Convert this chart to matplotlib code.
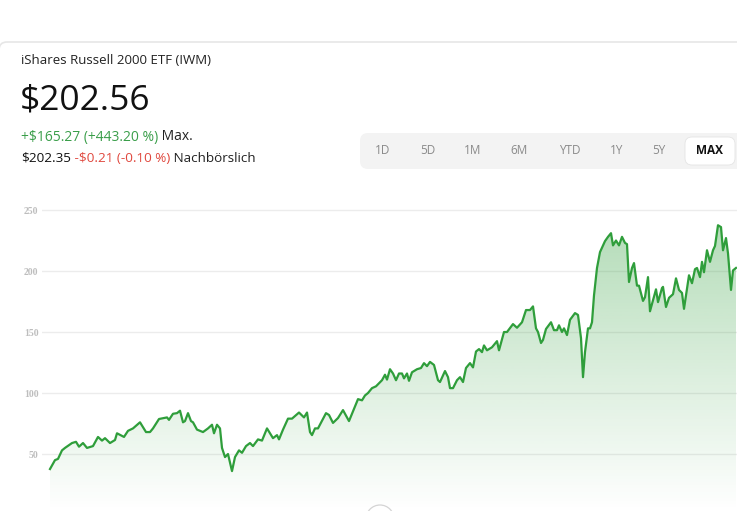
"""IWM price card: header texts, range selector and MAX price history area chart."""
import matplotlib
matplotlib.use("Agg")
import matplotlib.pyplot as plt
import numpy as np
from matplotlib.patches import FancyBboxPatch, Circle

# ---- data ------------------------------------------------------------------ #
TITLE = "iShares Russell 2000 ETF (IWM)"
PRICE = "$202.56"
CHANGE = "+$165.27 (+443.20 %)"
CHANGE_LABEL = "Max."
AFTER_PRICE = "$202.35"
AFTER_CHANGE = "-$0.21 (-0.10 %)"
AFTER_LABEL = "Nachbörslich"
RANGES = ["1D", "5D", "1M", "6M", "YTD", "1Y", "5Y", "MAX"]
SELECTED = "MAX"
Y_TICKS = [50, 100, 150, 200, 250]

# sample index along the time axis and closing price
t = [0, 5, 8, 12, 15, 22, 26, 29, 33, 37, 43, 48, 52, 55, 60, 65, 67, 74, 78, 83,
     90, 96, 100, 103, 109, 114, 117, 119, 123, 127, 130, 133, 135, 138, 141, 143,
     147, 150, 153, 158, 162, 164, 167, 170, 172, 175, 178, 182, 185, 189, 192, 196,
     200, 203, 208, 212, 217, 223, 227, 229, 233, 238, 242, 249, 254, 257, 260, 262,
     265, 268, 276, 279, 283, 288, 293, 299, 308, 312, 315, 318, 322, 326, 332, 335,
     337, 340, 343, 346, 349, 352, 354, 357, 359, 362, 367, 371, 374, 377, 380, 384,
     388, 390, 395, 398, 400, 403, 407, 410, 413, 416, 420, 423, 426, 429, 432, 434,
     437, 442, 447, 449, 454, 457, 463, 467, 472, 476, 480, 483, 486, 488, 491, 493,
     496, 501, 504, 507, 509, 512, 514, 517, 520, 525, 528, 531, 533, 535, 538, 540,
     542, 544, 547, 550, 555, 558, 561, 563, 566, 569, 572, 575, 577, 579, 582, 584,
     587, 589, 593, 595, 598, 600, 603, 606, 608, 612, 613, 616, 619, 623, 626, 629,
     632, 634, 639, 642, 645, 647, 650, 652, 654, 657, 660, 663, 665, 668, 671, 673,
     676, 678, 681, 683, 686]
price = [37.7, 45, 46, 53, 55, 59, 60, 56, 59, 55, 56.5, 64, 61, 63, 59, 61.5, 67, 64,
         69, 71, 76, 68, 68, 71, 78.7, 79.5, 80, 78, 83, 83.5, 85.5, 76, 77, 83.5, 77,
         76, 70, 69, 68, 71, 74, 67, 74, 71, 55, 47.5, 50, 36, 47.5, 53, 51, 56.5, 59,
         56.5, 62, 61, 71, 63, 65.5, 62, 70, 79, 79, 84, 80, 84, 68, 65.5, 71, 71, 83.5,
         82, 75.5, 79.5, 86, 77, 95, 94, 98, 100, 104, 105.5, 110.5, 115, 111, 119.5,
         116, 110.5, 116, 116, 112, 116, 110, 117, 119.5, 120.5, 124.5, 122, 125.5, 123,
         110.5, 109, 118, 113, 104, 104, 110.5, 113, 109, 120.5, 124.5, 121, 134, 136,
         133.5, 139, 135, 137.5, 142.5, 135, 150, 150, 156.5, 153.5, 158, 168, 168, 171,
         153, 150, 141, 143.5, 152.5, 158, 151.5, 151.5, 155.5, 150, 153, 147.5, 160,
         165.5, 164, 145, 113, 133.5, 153, 153, 158, 180, 202.5, 215.5, 224.5, 228, 231,
         221, 225, 221, 228, 223, 222, 191, 202.5, 206.5, 188, 188, 175.5, 178.5, 195,
         167, 176, 185, 174.5, 186, 187, 170.5, 178, 181, 194, 184.5, 182, 169, 196.5,
         190, 201.5, 202.5, 195, 207.5, 199, 217, 207.5, 217, 220.5, 237.5, 236, 217,
         227, 214.5, 184.5, 200.5, 202.5]

GREEN = "#2f9e3b"
GREEN_TXT = "#3a9e4a"
RED_TXT = "#e0483e"
W, H = 737, 511

fig = plt.figure(figsize=(W / 100, H / 100), dpi=100)
fig.patch.set_facecolor("white")

# ---- chart ------------------------------------------------------------------ #
ax = fig.add_axes([42 / W, 0, (W - 42) / W, 311 / H])
y0, y1 = 3.3, 258.2
ax.set_xlim(-8, 687)
ax.set_ylim(y0, y1)
for s in ax.spines.values():
    s.set_visible(False)
ax.set_yticks(Y_TICKS)
ax.set_yticklabels([str(v) for v in Y_TICKS], family="Liberation Serif",
                   fontsize=7, fontweight="bold", color="#bdbdbd")
ax.tick_params(axis="y", length=0, pad=2.5)
ax.set_xticks([])
ax.grid(axis="y", color="#ececec", lw=1)
ax.set_axisbelow(True)

poly = ax.fill_between(t, price, y0, color="none", lw=0)
grad = np.linspace(0, 1, 256)[:, None]
alpha = np.clip(grad * (y1 - y0) / (240 - y0), 0, 1) * 0.36
rgba = np.zeros((256, 1, 4))
rgba[..., 0], rgba[..., 1], rgba[..., 2] = 46 / 255, 158 / 255, 58 / 255
rgba[..., 3] = alpha
img = ax.imshow(rgba, extent=[-8, 687, y0, y1], origin="lower",
                aspect="auto", zorder=1)
img.set_clip_path(poly.get_paths()[0], transform=ax.transData)
ax.plot(t, price, color=GREEN, lw=1.6, zorder=3, solid_joinstyle="round")

# ---- overlay in pixel coordinates --------------------------------------- #
ov = fig.add_axes([0, 0, 1, 1], zorder=5)
ov.set_xlim(0, W)
ov.set_ylim(H, 0)
ov.axis("off")
ov.patch.set_alpha(0)

ov.add_patch(FancyBboxPatch((-1, 42), W + 30, 600, boxstyle="round,pad=0,rounding_size=8",
                            fc="none", ec="#e6e6e6", lw=1.2))
ov.add_patch(Circle((380, 519), 14, fc="white", ec="#d4d4d4", lw=0.9))

font = "Open Sans"
ov.text(21, 61, TITLE, family=font, fontsize=9.5, color="#222222", va="center")
ov.text(20, 101, PRICE, family=font, fontsize=25.5, color="#111111", va="center")
t1 = ov.text(21, 137, CHANGE, family=font, fontsize=10, color=GREEN_TXT, va="center")
ov.annotate(" " + CHANGE_LABEL, xycoords=t1, xy=(1, 0.5), va="center",
            family=font, fontsize=10, color="#222222")
a1 = ov.text(21, 158, AFTER_PRICE, family=font, fontsize=9.7, color="#111111", va="center")
a2 = ov.annotate(" " + AFTER_CHANGE, xycoords=a1, xy=(1, 0.5), va="center",
                 family=font, fontsize=9.7, color=RED_TXT)
ov.annotate(" " + AFTER_LABEL, xycoords=a2, xy=(1, 0.5), va="center",
            family=font, fontsize=9.7, color="#222222")

# range selector
ov.add_patch(FancyBboxPatch((360, 133), 420, 36, boxstyle="round,pad=0,rounding_size=8",
                            fc="#f3f3f3", ec="none"))
centers = [383, 428, 473, 519, 570, 617, 659, 710]
for lab, cx in zip(RANGES, centers):
    if lab == SELECTED:
        ov.add_patch(FancyBboxPatch((685, 137), 50, 28,
                                    boxstyle="round,pad=0,rounding_size=7",
                                    fc="white", ec="#e4e4e4", lw=0.6))
        ov.text(cx, 151, lab, family=font, fontsize=8.5, color="#111111",
                ha="center", va="center", fontweight="bold")
    else:
        ov.text(cx, 151, lab, family=font, fontsize=8.5, color="#8a8a8a",
                ha="center", va="center")

fig.savefig("out.png", dpi=100)
